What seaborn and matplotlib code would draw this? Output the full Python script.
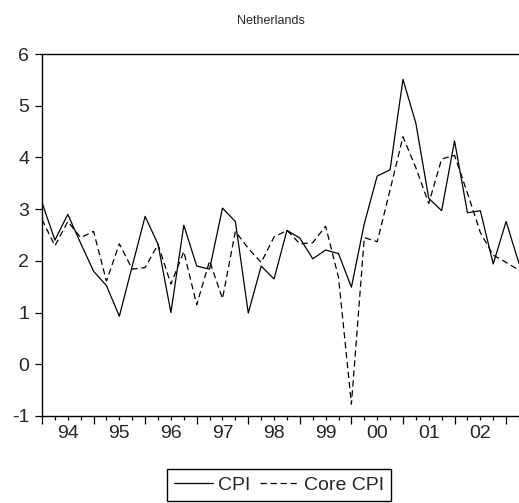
import numpy as np
import pandas as pd
import matplotlib
matplotlib.use("Agg")
import matplotlib.pyplot as plt
import seaborn as sns

### Dados (trimestrais, 1994Q1 - 2003Q2)
anos = ["94", "95", "96", "97", "98", "99", "00", "01", "02"]
cpi = [3.13, 2.40, 2.90, 2.34, 1.80, 1.52, 0.93, 1.90, 2.86, 2.32,
       1.00, 2.69, 1.90, 1.84, 3.02, 2.76, 0.99, 1.90, 1.65, 2.59,
       2.44, 2.04, 2.21, 2.14, 1.49, 2.72, 3.64, 3.76, 5.51, 4.66,
       3.21, 2.97, 4.32, 2.93, 2.97, 1.94, 2.76, 1.95]
core_cpi = [2.80, 2.29, 2.76, 2.45, 2.57, 1.61, 2.33, 1.84, 1.87, 2.32,
            1.55, 2.18, 1.15, 2.00, 1.27, 2.57, 2.24, 1.97, 2.46, 2.59,
            2.33, 2.35, 2.67, 1.68, -0.77, 2.45, 2.37, 3.37, 4.40, 3.80,
            3.11, 3.97, 4.04, 3.31, 2.55, 2.11, 1.97, 1.82]

obs = np.arange(len(cpi))
dados = pd.DataFrame({"obs": np.concatenate([obs, obs]),
                      "valor": cpi + core_cpi,
                      "serie": ["CPI"] * len(cpi) + ["Core CPI"] * len(core_cpi)})

### Estilo
sns.set_style("ticks")
plt.rcParams["font.family"] = ["Liberation Sans", "DejaVu Sans"]
plt.rcParams["axes.unicode_minus"] = False

fig = plt.figure(figsize = (5.19, 5.03), dpi = 100)
ax = fig.add_axes([42/519, 87/503, 477/519, 362/503])

sns.lineplot(data = dados, x = "obs", y = "valor", style = "serie",
             dashes = {"CPI": "", "Core CPI": (5, 3)}, color = "black",
             linewidth = 0.9, ax = ax)

ax.set_xlim(0, 477/13.1)
ax.set_ylim(-1, 6)
ax.set_yticks(range(-1, 7))
ax.set_xticks(np.arange(0, 37, 4))
ax.set_xticks(np.arange(0, 38, 1), minor = True)
ax.set_xticklabels([])
ax.tick_params(axis = "y", length = 5, width = 0.9, pad = 4.3, labelsize = 14, color = "black")
ax.tick_params(axis = "x", which = "major", length = 6, width = 0.9, color = "black")
ax.tick_params(axis = "x", which = "minor", length = 3, width = 0.9, color = "black")
ax.set_xlabel("")
ax.set_ylabel("")
for lado in ["left", "top", "bottom"]:
    ax.spines[lado].set_visible(True)
    ax.spines[lado].set_linewidth(1.0)
    ax.spines[lado].set_color("black")
ax.spines["right"].set_visible(False)

# rótulos dos anos no centro de cada ano
sec = ax.secondary_xaxis("bottom")
sec.set_xticks(np.arange(2, 37, 4), anos)
sec.tick_params(length = 0, pad = 6.5, labelsize = 14)
sec.spines["bottom"].set_visible(False)

fig.text(271/519, 1 - 21/503, "Netherlands", ha = "center", va = "center", fontsize = 9)

sns.move_legend(ax, loc = "center", bbox_to_anchor = ((279 - 42)/477, (416 - 485)/362),
                ncol = 2, title = None, frameon = True, fancybox = False,
                edgecolor = "black", fontsize = 14, handlelength = 2.0,
                borderpad = 0.35, columnspacing = 0.45, handletextpad = 0.3)
leg = ax.get_legend()
leg.get_frame().set_linewidth(1.0)
leg.get_frame().set_alpha(1)

plt.savefig("out.png", dpi = 100)
